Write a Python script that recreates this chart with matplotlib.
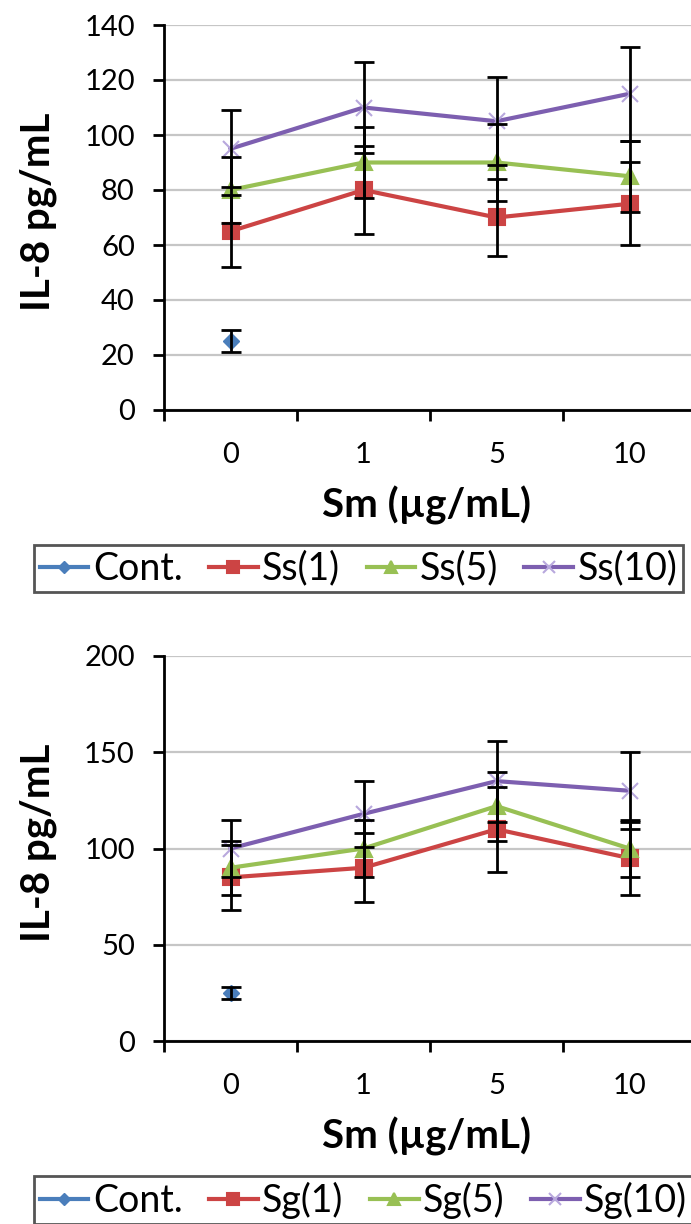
import matplotlib
matplotlib.use("Agg")
import matplotlib.pyplot as plt

plt.rcParams['font.family'] = ['Lato', 'DejaVu Sans']

# categories on the x axis (Sm concentration)
doses = ['0', '1', '5', '10']

# top panel: S. salivarius (Ss)
ss_cont = [25]
ss_cont_err = [4]
ss1 = [65, 80, 70, 75]
ss1_err = [13, 16, 14, 15]
ss5 = [80, 90, 90, 85]
ss5_err = [12, 13, 14, 13]
ss10 = [95, 110, 105, 115]
ss10_err = [14, 16.5, 16, 17]

# bottom panel: S. gordonii (Sg)
sg_cont = [25]
sg_cont_err = [3]
sg1 = [85, 90, 110, 95]
sg1_err = [17, 18, 22, 19]
sg5 = [90, 100, 122, 100]
sg5_err = [14, 15, 18, 15]
sg10 = [100, 118, 135, 130]
sg10_err = [15, 17, 21, 20]

W, H = 691, 1224
BLUE = '#4a7ebb'
RED = '#cc4444'
GREEN = '#98c054'
PURPLE = '#7d5fb0'


def draw_panel(fig, offset, cont, cont_err, series, ylim, yticks, prefix):
    # offset in pixels from the top panel
    ax = fig.add_axes([164 / W, 1 - (410 + offset) / H, (W - 164) / W, 385 / H])
    x = list(range(len(doses)))

    ax.set_axisbelow(True)
    ax.grid(axis='y', color='#c6c6c6', linewidth=1.6)

    styles = [
        (RED, 's', 11, RED, 1),
        (GREEN, '^', 11, GREEN, 1),
        (PURPLE, 'x', 11, '#b8a8dd', 1),
    ]
    handles = []
    h, = ax.plot(x[:len(cont)], cont, color=BLUE, marker='D', markersize=8,
                 linewidth=3, zorder=3, label='Cont.')
    ax.errorbar(x[:len(cont)], cont, yerr=cont_err, fmt='none', ecolor='black',
                elinewidth=2, capsize=7, capthick=2, zorder=4)
    handles.append(h)
    names = [prefix + '(1)', prefix + '(5)', prefix + '(10)']
    for (vals, errs), (col, mk, ms, mcol, _), name in zip(series, styles, names):
        h, = ax.plot(x, vals, color=col, marker=mk, markersize=ms,
                     markerfacecolor=mcol, markeredgecolor=mcol, markeredgewidth=1.5,
                     linewidth=3, zorder=3, label=name)
        ax.errorbar(x, vals, yerr=errs, fmt='none', ecolor='black',
                    elinewidth=2, capsize=7, capthick=2, zorder=4)
        handles.append(h)

    ax.set_xlim(-0.5, -0.5 + (W - 164) / 133)
    ax.set_ylim(*ylim)
    ax.set_yticks(yticks)
    ax.set_xticks(x)
    ax.set_xticklabels(doses)
    ax.set_xticks([-0.5, 0.5, 1.5, 2.5], minor=True)

    for side in ['top', 'right']:
        ax.spines[side].set_visible(False)
    for side in ['left', 'bottom']:
        ax.spines[side].set_linewidth(2)
        ax.spines[side].set_color('black')

    ax.tick_params(axis='y', direction='out', length=8, width=2, pad=13, labelsize=21)
    ax.tick_params(axis='x', which='major', length=0, pad=23, labelsize=21)
    ax.tick_params(axis='x', which='minor', direction='out', length=8, width=2)

    fig.text(427 / W, 1 - (505 + offset) / H, 'Sm (µg/mL)', fontsize=29,
             fontweight='bold', ha='center', va='center')
    fig.text(38 / W, 1 - (212 + offset) / H, 'IL-8 pg/mL', fontsize=29,
             fontweight='bold', ha='center', va='center', rotation=90)

    leg = ax.legend(handles=handles, loc='upper left', ncol=4,
                    bbox_to_anchor=(34 / W, 1 - (545 + offset) / H),
                    bbox_transform=fig.transFigure, fontsize=27,
                    frameon=True, fancybox=False, framealpha=1,
                    edgecolor='#555555', handlelength=1.3, handletextpad=0.12,
                    columnspacing=0.7, borderpad=0.15, borderaxespad=0,
                    markerscale=0.75)
    leg.get_frame().set_linewidth(2)
    return ax


fig = plt.figure(figsize=(W / 100, H / 100), dpi=100)

draw_panel(fig, 0, ss_cont, ss_cont_err,
           [(ss1, ss1_err), (ss5, ss5_err), (ss10, ss10_err)],
           (0, 140), range(0, 141, 20), 'Ss')
draw_panel(fig, 631, sg_cont, sg_cont_err,
           [(sg1, sg1_err), (sg5, sg5_err), (sg10, sg10_err)],
           (0, 200), range(0, 201, 50), 'Sg')

fig.savefig('out.png', dpi=100)
